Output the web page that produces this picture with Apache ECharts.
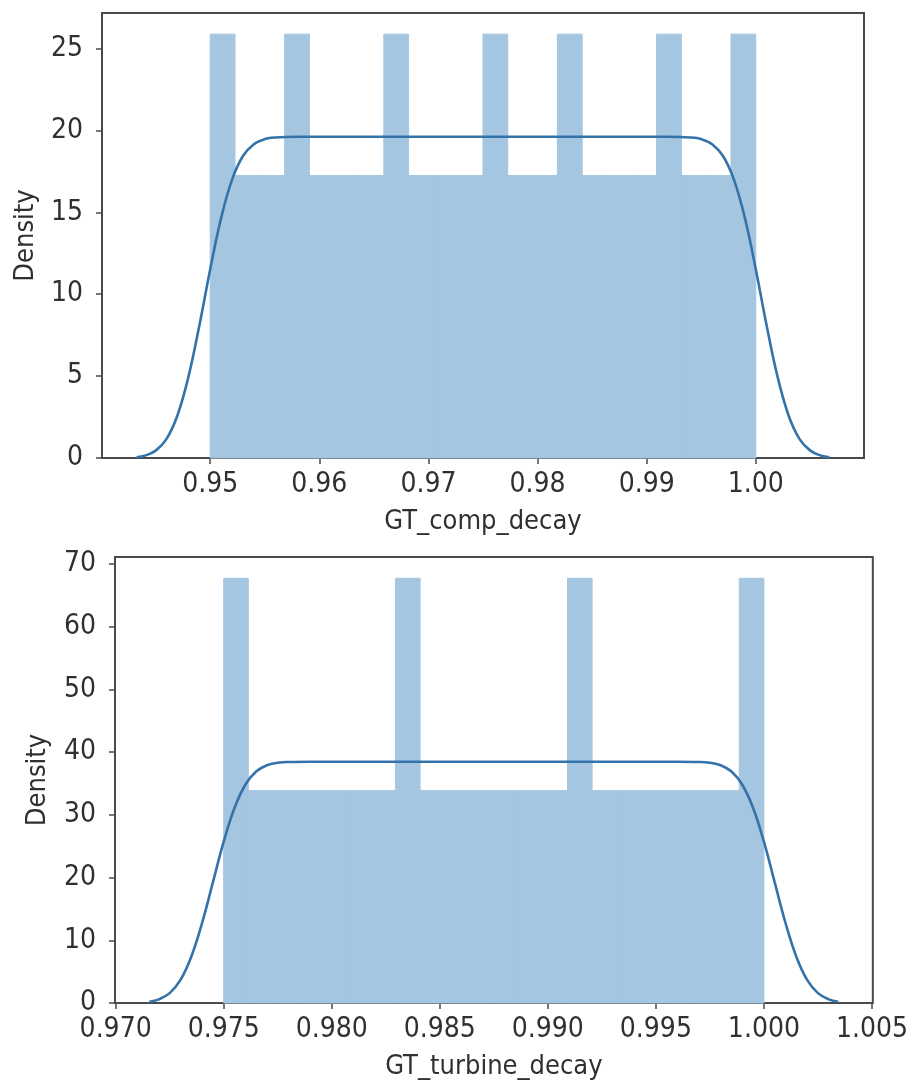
<!doctype html>
<html>
<head>
<meta charset="utf-8">
<title>distplot GT_comp_decay / GT_turbine_decay</title>
<script src="https://cdn.jsdelivr.net/npm/echarts@6/dist/echarts.min.js"></script>
<style>
  html, body { margin: 0; padding: 0; background: #fff; }
  #main { width: 911px; height: 1090px; }
</style>
</head>
<body>
<div id="main"></div>
<script type="text/javascript">
// ---- top panel: GT_comp_decay ----
var compEdges = [0.95, 0.95227, 0.95455, 0.95682, 0.95909, 0.96136, 0.96364, 0.96591, 0.96818, 0.97045, 0.97273, 0.975,
                 0.97727, 0.97955, 0.98182, 0.98409, 0.98636, 0.98864, 0.99091, 0.99318, 0.99545, 0.99773, 1.0];
var compDensity = [25.88, 17.25, 17.25, 25.88, 17.25, 17.25, 17.25, 25.88, 17.25, 17.25, 17.25, 25.88,
                   17.25, 17.25, 25.88, 17.25, 17.25, 17.25, 25.88, 17.25, 17.25, 25.88];
var compKdeX = [0.94325, 0.944, 0.945, 0.946, 0.947, 0.948, 0.949, 0.950, 0.951, 0.952, 0.953, 0.954, 0.955, 0.956, 0.958,
                0.975, 0.992, 0.994, 0.995, 0.996, 0.997, 0.998, 0.999, 1.000, 1.001, 1.002, 1.003, 1.004, 1.005, 1.006, 1.00675];
var compKdeY = [0.05, 0.14, 0.45, 1.17, 2.61, 4.95, 8.08, 11.53, 14.66, 17.0, 18.44, 19.16, 19.47, 19.57, 19.61,
                19.61, 19.61, 19.57, 19.47, 19.16, 18.44, 17.0, 14.66, 11.53, 8.08, 4.95, 2.61, 1.17, 0.45, 0.14, 0.05];
var compXTicks = [0.95, 0.96, 0.97, 0.98, 0.99, 1.00];
var compYTicks = [0, 5, 10, 15, 20, 25];

// ---- bottom panel: GT_turbine_decay ----
var turbEdges = [0.975, 0.97614, 0.97727, 0.97841, 0.97955, 0.98068, 0.98182, 0.98295, 0.98409, 0.98523, 0.98636, 0.9875,
                 0.98864, 0.98977, 0.99091, 0.99205, 0.99318, 0.99432, 0.99545, 0.99659, 0.99773, 0.99886, 1.0];
var turbDensity = [67.69, 33.85, 33.85, 33.85, 33.85, 33.85, 33.85, 67.69, 33.85, 33.85, 33.85,
                   33.85, 33.85, 33.85, 67.69, 33.85, 33.85, 33.85, 33.85, 33.85, 33.85, 67.69];
var turbKdeX = [0.97156, 0.972, 0.9725, 0.973, 0.9735, 0.974, 0.9745, 0.975, 0.9755, 0.976, 0.9765, 0.977, 0.9775, 0.978, 0.979,
                0.996, 0.997, 0.9975, 0.998, 0.9985, 0.999, 0.9995, 1.000, 1.0005, 1.001, 1.0015, 1.002, 1.0025, 1.003, 1.00344];
var turbKdeY = [0.2, 0.57, 1.57, 3.68, 7.38, 12.75, 19.23, 25.71, 31.08, 34.78, 36.89, 37.89, 38.29, 38.42, 38.46,
                38.46, 38.42, 38.29, 37.89, 36.89, 34.78, 31.08, 25.71, 19.23, 12.75, 7.38, 3.68, 1.57, 0.57, 0.2];
var turbXTicks = [0.970, 0.975, 0.980, 0.985, 0.990, 0.995, 1.000, 1.005];
var turbYTicks = [0, 10, 20, 30, 40, 50, 60, 70];

var barColor = '#a5c6e0';
var lineColor = '#3373aa';
var textColor = '#303030';
var frameColor = '#4a4a4a';
var fontFamily = "'DejaVu Sans Condensed', 'DejaVu Sans', sans-serif";

function histData(edges, dens) {
    var out = [];
    for (var i = 0; i < dens.length; i++) out.push([edges[i], edges[i + 1], dens[i]]);
    return out;
}
function pairs(xs, ys) {
    var out = [];
    for (var i = 0; i < xs.length; i++) out.push([xs[i], ys[i]]);
    return out;
}
function renderBin(params, api) {
    var p0 = api.coord([api.value(0), api.value(2)]);
    var p1 = api.coord([api.value(1), 0]);
    return {
        type: 'rect',
        shape: { x: p0[0], y: p0[1], width: p1[0] - p0[0], height: p1[1] - p0[1] },
        style: { fill: barColor, stroke: barColor, lineWidth: 1 }
    };
}

function xAxisOpt(idx, min, max, ticks, digits, name) {
    return {
        type: 'value', gridIndex: idx, min: min, max: max,
        name: name, nameLocation: 'middle', nameGap: 50,
        nameTextStyle: { color: textColor, fontSize: 27, fontFamily: fontFamily },
        axisLine: { show: false },
        splitLine: { show: false },
        axisTick: { show: true, length: 6, customValues: ticks, lineStyle: { color: frameColor, width: 1.5 } },
        axisLabel: {
            customValues: ticks, margin: 13, color: textColor, fontSize: 28, fontFamily: fontFamily,
            formatter: function (v) { return v.toFixed(digits); }
        }
    };
}
function yAxisOpt(idx, max, ticks, gap) {
    return {
        type: 'value', gridIndex: idx, min: 0, max: max,
        name: 'Density', nameLocation: 'middle', nameGap: gap,
        nameTextStyle: { color: textColor, fontSize: 27, fontFamily: fontFamily },
        axisLine: { show: false },
        splitLine: { show: false },
        axisTick: { show: true, length: 6, customValues: ticks, lineStyle: { color: frameColor, width: 1.5 } },
        axisLabel: { customValues: ticks, margin: 19, color: textColor, fontSize: 28, fontFamily: fontFamily }
    };
}

var chart = echarts.init(document.getElementById('main'), null, { renderer: 'canvas' });
chart.setOption({
    animation: false,
    backgroundColor: '#fff',
    grid: [
        { left: 102, top: 13, width: 762, height: 445, show: true, borderColor: frameColor, borderWidth: 2 },
        { left: 115, top: 557, width: 763, height: 446, show: true, borderColor: frameColor, borderWidth: 2 }
    ],
    xAxis: [
        xAxisOpt(0, 0.94008, 1.00992, compXTicks, 2, 'GT_comp_decay'),
        xAxisOpt(1, 0.96997, 1.00504, turbXTicks, 3, 'GT_turbine_decay')
    ],
    yAxis: [
        yAxisOpt(0, 27.17, compYTicks, 63),
        yAxisOpt(1, 71.08, turbYTicks, 64)
    ],
    series: [
        { type: 'custom', xAxisIndex: 0, yAxisIndex: 0, renderItem: renderBin, data: histData(compEdges, compDensity), z: 1 },
        { type: 'line', xAxisIndex: 0, yAxisIndex: 0, data: pairs(compKdeX, compKdeY), showSymbol: false, smooth: 0.4,
          lineStyle: { color: lineColor, width: 2.6 }, z: 3 },
        { type: 'custom', xAxisIndex: 1, yAxisIndex: 1, renderItem: renderBin, data: histData(turbEdges, turbDensity), z: 1 },
        { type: 'line', xAxisIndex: 1, yAxisIndex: 1, data: pairs(turbKdeX, turbKdeY), showSymbol: false, smooth: 0.4,
          lineStyle: { color: lineColor, width: 2.6 }, z: 3 }
    ]
});
</script>
</body>
</html>
